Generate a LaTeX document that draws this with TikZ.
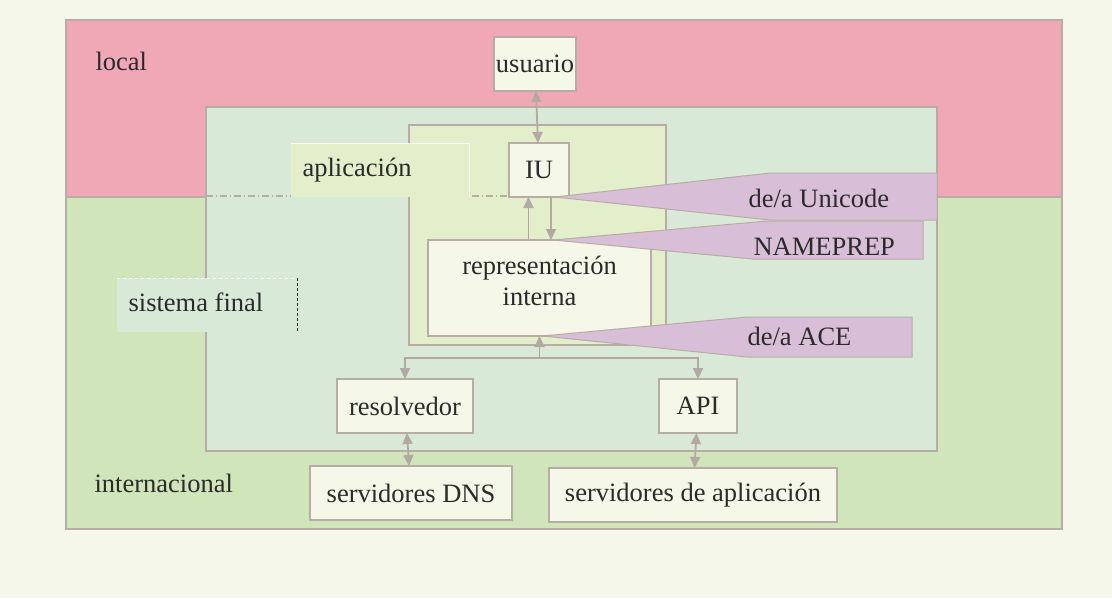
\documentclass[tikz,border=0pt]{standalone}
\usepackage{fontspec}
\setmainfont{Liberation Serif}
\usepackage{xcolor}
\usepackage{tikz}
\usetikzlibrary{arrows.meta}

\definecolor{canvas}{HTML}{F5F7EA}
\definecolor{localfill}{HTML}{F0A8B6}
\definecolor{intlfill}{HTML}{D1E5BA}
\definecolor{sysfill}{HTML}{D8EAD7}
\definecolor{appfill}{HTML}{E3EECB}
\definecolor{boxfill}{HTML}{F5F7E8}
\definecolor{convfill}{HTML}{D9BED7}
\definecolor{frame}{HTML}{B8ADA5}
\definecolor{linkcol}{HTML}{B3A8A2}
\definecolor{ink}{HTML}{2B2B2B}

\begin{document}
\begin{tikzpicture}[x=1pt, y=-1pt, line width=1.2pt, >={Triangle[length=11pt,width=10pt]},
  txt/.style={font=\fontsize{26.5}{31}\selectfont, text=ink, inner sep=0pt},
  box/.style={txt, draw=frame, fill=boxfill, anchor=north west, outer sep=0pt},
  link/.style={draw=linkcol, line width=1.8pt},
  conv/.style={draw=frame, fill=convfill, line width=1pt}]

% fondo y zonas
\fill [canvas] (0,0) rectangle (1112,598);
\fill [localfill] (66,20) rectangle (1062,197);
\fill [intlfill] (66,197) rectangle (1062,529);
\draw [frame] (66,197) -- (1062,197);
\draw [frame] (66,20) rectangle (1062,529);

% sistema final y aplicacion
\draw [frame, fill=sysfill] (206,107) rectangle (937,451);
\draw [frame, fill=appfill] (409,125) rectangle (666,345);
\draw [frame, line width=1.2pt, dash pattern=on 7pt off 3pt on 1pt off 3pt] (206,196) -- (937,196);

\fill [appfill] (291,143) rectangle (469,197);
\draw [white, line width=0.8pt] (291,143) -- (469,143) -- (469,197);
\fill [sysfill] (117,278) rectangle (297,332);
\draw [white, line width=0.8pt, dashed] (117,278) -- (297,278);
\draw [ink, line width=0.6pt, densely dashed] (297,278) -- (297,332);

\node [box, minimum width=82pt, minimum height=54pt] (usr) at (494,37) {usuario};
\node [box, minimum width=60pt, minimum height=54pt] (iu) at (509,143) {IU};
\node [box, minimum width=223pt, minimum height=96pt] (rep) at (428,240) {};
\node [txt, align=center] (reptext) at ([yshift=7pt]rep.center) {representación\\interna};
\node [box, minimum width=136pt, minimum height=54pt] (res) at (337,379) {resolvedor};
\node [box, minimum width=78pt, minimum height=54pt] (api) at (659,379) {API};
\node [box, minimum width=202pt, minimum height=54pt] (dns) at (310,466) {servidores DNS};
\node [box, minimum width=288pt, minimum height=54pt] (appsrv) at (549,468) {servidores de aplicación};

% conexiones
\draw [link, <->] (usr) -- (iu);
\draw [link, ->] ([xshift=-11pt]rep.north) -- ([xshift=-11pt]rep.north |- iu.south);
\draw [link, ->] ([xshift=12pt]iu.south) -- ([xshift=12pt]iu.south |- rep.north);
\coordinate (fork) at ([yshift=-22pt]rep.south);
\draw [link, ->] (fork) -- (rep.south);
\draw [link, ->] (fork) -| (res.north);
\draw [link, ->] (fork) -| (api.north);
\draw [link, <->] (res) -- (dns);
\draw [link, <->] (api) -- (appsrv);

% conversiones
\filldraw [conv] ([xshift=16pt]iu.south) -- (770,173) -- (937,173) -- (937,220) -- (770,220) -- cycle;
\filldraw [conv] ([xshift=14pt]rep.north) -- (767,221) -- (923,221) -- (923,259) -- (753,259) -- cycle;
\filldraw [conv] ([xshift=3pt]rep.south) -- (747,317) -- (912,317) -- (912,357) -- (747,357) -- cycle;
\node [txt, anchor=base west] (unicode) at (748,207) {de/a Unicode};
\node [txt, anchor=base west] (nameprep) at (753,255) {NAMEPREP};
\node [txt, anchor=base west] (ace) at (747,345) {de/a ACE};

% rotulos de zona
\node [txt, anchor=base west] (local) at (95,70) {local};
\node [txt, anchor=base west] (intl) at (94,492) {internacional};
\node [txt, anchor=base west] (applbl) at (302,176) {aplicación};
\node [txt, anchor=base west] (syslbl) at (128,311) {sistema final};
\end{tikzpicture}
\end{document}
